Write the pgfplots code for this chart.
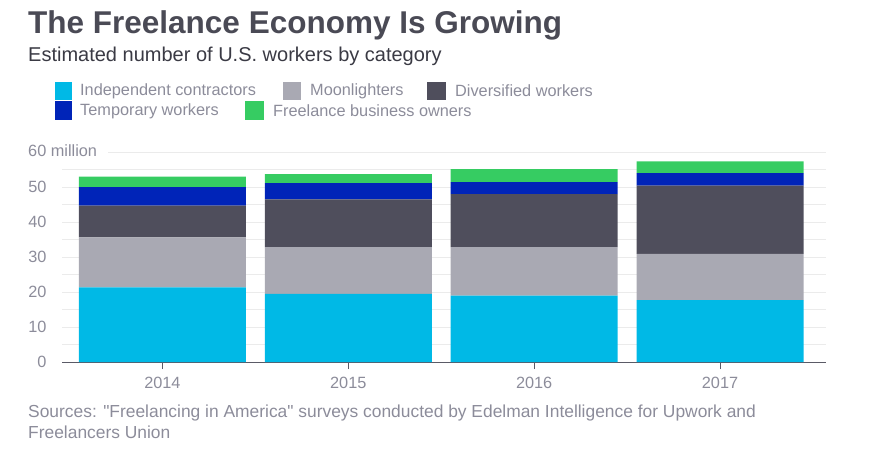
\documentclass[border=0pt]{standalone}
\usepackage{fontspec}
\setmainfont{Liberation Sans}[Ligatures=TeXOff]
\usepackage{pgfplots}
\usepackage{pgfplotstable}
\pgfplotsset{compat=1.18}

\definecolor{cContr}{HTML}{00B9E6}
\definecolor{cMoon}{HTML}{A9A9B3}
\definecolor{cDiv}{HTML}{4F4E5C}
\definecolor{cTemp}{HTML}{0024B8}
\definecolor{cOwn}{HTML}{36CC62}
\definecolor{txtgray}{HTML}{8C8C9A}
\definecolor{titlegray}{HTML}{4A4A55}
\definecolor{subgray}{HTML}{3A3A44}
\definecolor{gridgray}{HTML}{EBEBEB}
\definecolor{axisgray}{HTML}{5A5A66}

% millions of workers
\pgfplotstableread{
year contr moon div temp own
0 21.3 14.3 9.1 5.3 3.0
1 19.5 13.3 13.7 4.6 2.6
2 19.0 13.8 15.2 3.4 3.7
3 17.7 13.2 19.5 3.6 3.3
}\freelance

\newcommand{\lgfont}{\fontsize{16.3}{16.3}\selectfont}

\begin{document}
\begin{tikzpicture}
\begin{scope}[x=1pt,y=1pt]
\path (0,0) rectangle (871,-460);
\node[anchor=base west, inner sep=0, text=titlegray,
  font=\fontsize{31.5}{31.5}\selectfont\bfseries] at (28,-34) {The Freelance Economy Is Growing};
\node[anchor=base west, inner sep=0, text=subgray,
  font=\fontsize{20}{20}\selectfont] at (28,-62) {Estimated number of U.S. workers by category};
% legend
\fill[cContr] (55,-82) rectangle (72,-100);
\node[anchor=west, inner sep=0, text=txtgray, font=\lgfont] at (80,-91) {Independent contractors};
\fill[cMoon] (283,-82) rectangle (301,-100);
\node[anchor=west, inner sep=0, text=txtgray, font=\lgfont] at (310,-91) {Moonlighters};
\fill[cDiv] (427,-82) rectangle (446,-100);
\node[anchor=west, inner sep=0, text=txtgray, font=\lgfont] at (455,-91) {Diversified workers};
\fill[cTemp] (55,-101) rectangle (72,-120);
\node[anchor=west, inner sep=0, text=txtgray, font=\lgfont] at (80,-111) {Temporary workers};
\fill[cOwn] (245,-101) rectangle (264,-120);
\node[anchor=west, inner sep=0, text=txtgray, font=\lgfont] at (273,-111) {Freelance business owners};
% top grid line with its label
\draw[gridgray, line width=0.8pt] (108,-152) -- (826,-152);
\node[anchor=west, inner sep=0, text=txtgray, font=\lgfont] at (28,-151) {60 million};
% sources
\node[anchor=base west, inner sep=0, text=txtgray, font=\fontsize{17.4}{17.4}\selectfont] at (28,-417)
  {Sources: "Freelancing in America" surveys conducted by Edelman Intelligence for Upwork and};
\node[anchor=base west, inner sep=0, text=txtgray, font=\fontsize{17.4}{17.4}\selectfont] at (28,-438)
  {Freelancers Union};
\end{scope}

\begin{axis}[
  at={(62pt,-362pt)}, anchor=south west,
  scale only axis, width=764pt, height=210pt,
  xmin=-0.54, xmax=3.57, ymin=0, ymax=60,
  ybar stacked, bar width=167pt,
  xtick={0,1,2,3}, xticklabels={2014,2015,2016,2017},
  ytick={0,10,...,50}, minor ytick={5,15,...,55},
  ymajorgrids, yminorgrids,
  major grid style={gridgray, line width=0.8pt},
  minor grid style={gridgray, line width=0.8pt},
  axis x line*=bottom, axis y line*=left,
  x axis line style={axisgray, line width=1pt, -},
  y axis line style={draw=none},
  xtick style={axisgray, line width=1pt},
  ytick style={draw=none},
  tick align=outside, major tick length=7pt, minor tick length=0pt,
  ticklabel style={font=\lgfont, text=txtgray},
  /pgf/number format/assume math mode=true,
  yticklabel style={xshift=-5pt},
  xticklabel style={yshift=-5pt},
]
\addplot[fill=cContr, draw=none] table[x=year, y=contr]{\freelance};
\addplot[fill=cMoon, draw=none] table[x=year, y=moon]{\freelance};
\addplot[fill=cDiv, draw=none] table[x=year, y=div]{\freelance};
\addplot[fill=cTemp, draw=none] table[x=year, y=temp]{\freelance};
\addplot[fill=cOwn, draw=none] table[x=year, y=own]{\freelance};
\end{axis}
\end{tikzpicture}
\end{document}
